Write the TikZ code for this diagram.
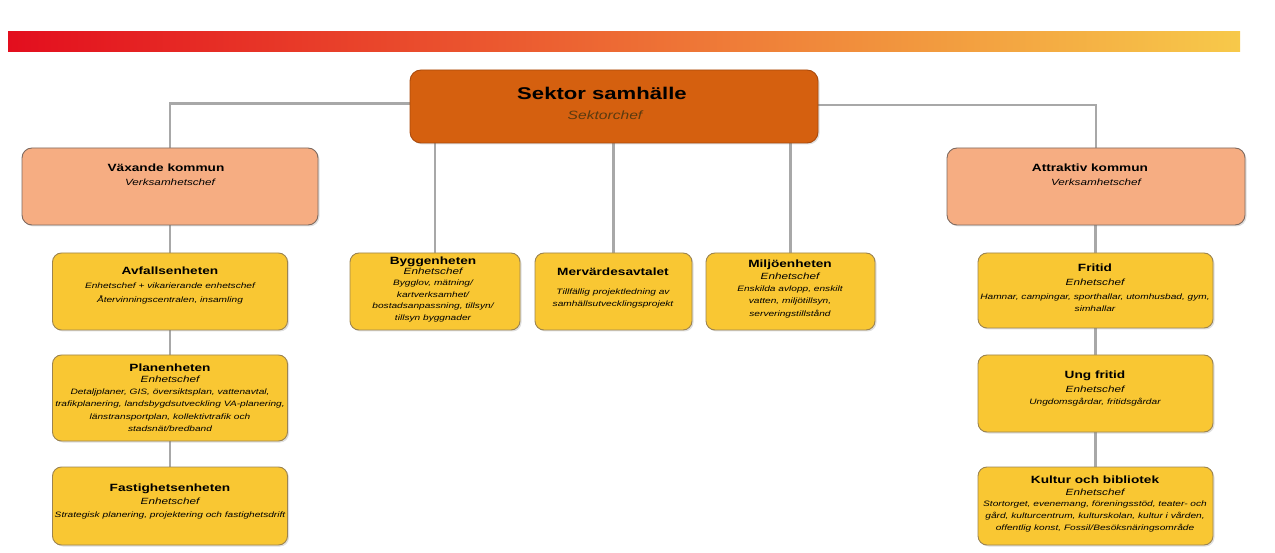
\documentclass[tikz,border=0pt]{standalone}
\usepackage{fontspec}
\setmainfont{Liberation Sans}[FakeStretch=1.3]
\usetikzlibrary{shadows,backgrounds}
\definecolor{topfill}{HTML}{D5600F}
\definecolor{topdraw}{HTML}{A94A0C}
\definecolor{salfill}{HTML}{F6AD82}
\definecolor{saldraw}{HTML}{7E6A60}
\definecolor{yelfill}{HTML}{F9C733}
\definecolor{yeldraw}{HTML}{9C8450}
\definecolor{linegray}{HTML}{A8A8A8}
\definecolor{barred}{HTML}{E30E1E}
\definecolor{barmid}{HTML}{F07A1C}
\definecolor{baryel}{HTML}{F7C94A}
\definecolor{subtxt}{HTML}{5A3A10}
\tikzset{
  box/.style={rounded corners=9pt, draw, line width=0.9pt, inner sep=0pt,
    drop shadow={opacity=0.25, shadow xshift=1.5pt, shadow yshift=-1.5pt}},
  topbox/.style={box, fill=topfill, draw=topdraw, rounded corners=11pt},
  salbox/.style={box, fill=salfill, draw=saldraw, rounded corners=10pt},
  yelbox/.style={box, fill=yelfill, draw=yeldraw},
  conn/.style={draw=linegray, line width=2.6pt},
  txt/.style={anchor=base, inner sep=0pt},
}
\newcommand{\ttlf}{\bfseries\fontsize{10.5}{12}\selectfont}
\newcommand{\subf}{\itshape\fontsize{9}{11}\selectfont}
\newcommand{\bdyf}{\itshape\fontsize{7.8}{9}\selectfont}
% name, x, first-baseline y, line step, font, lines
\newcommand{\txl}[6]{\foreach \l [count=\i from 0] in {#6}{\node[txt, font=#5] (#1-\i) at ({#2},{#3+\i*#4}) {\l};}}
\begin{document}
\begin{tikzpicture}[x=1pt,y=-1pt]
\useasboundingbox (0,0) rectangle (1275,553);
\shade[left color=barred, middle color=barmid, right color=baryel] (8,32) rectangle (1240,52);

% boxes
\node[topbox, minimum width=408pt, minimum height=73pt] (top) at (614,106.5) {};
\node[salbox, minimum width=296pt, minimum height=77pt] (vax) at (170,186.5) {};
\node[salbox, minimum width=298pt, minimum height=77pt] (att) at (1096,186.5) {};
\node[yelbox, minimum width=235pt, minimum height=77pt] (avf) at (170,291.5) {};
\node[yelbox, minimum width=235pt, minimum height=86pt] (pla) at (170,398) {};
\node[yelbox, minimum width=235pt, minimum height=78pt] (fas) at (170,506) {};
\node[yelbox, minimum width=170pt, minimum height=77pt] (byg) at (435,291.5) {};
\node[yelbox, minimum width=157pt, minimum height=77pt] (mer) at (613.5,291.5) {};
\node[yelbox, minimum width=169pt, minimum height=77pt] (mil) at (790.5,291.5) {};
\node[yelbox, minimum width=235pt, minimum height=75pt] (fri) at (1095.5,290.5) {};
\node[yelbox, minimum width=235pt, minimum height=77pt] (ung) at (1095.5,393.5) {};
\node[yelbox, minimum width=235pt, minimum height=78pt] (kul) at (1095.5,506) {};

% texts
\node[txt, font=\bfseries\fontsize{17}{20}\selectfont] (topt) at (602,99.5) {Sektor samhälle};
\node[txt, font=\itshape\fontsize{12}{14}\selectfont, text=subtxt] (tops) at (605,120) {Sektorchef};

\node[txt, font=\ttlf] (vaxt) at (166,172) {Växande kommun};
\node[txt, font=\subf] (vaxs) at (170,186) {Verksamhetschef};
\node[txt, font=\ttlf] (attt) at (1090,172) {Attraktiv kommun};
\node[txt, font=\subf] (atts) at (1096,186) {Verksamhetschef};

\node[txt, font=\ttlf] (avft) at (170,275) {Avfallsenheten};
\txl{avfb}{170}{288.5}{14}{\bdyf}{{Enhetschef + vikarierande enhetschef},{Återvinningscentralen, insamling}}

\node[txt, font=\ttlf] (plat) at (170,371) {Planenheten};
\node[txt, font=\subf] (plas) at (170,383) {Enhetschef};
\txl{plab}{170}{394.5}{12.3}{\bdyf}{{Detaljplaner, GIS, översiktsplan, vattenavtal,},{trafikplanering, landsbygdsutveckling VA-planering,},{länstransportplan, kollektivtrafik och},{stadsnät/bredband}}

\node[txt, font=\ttlf] (fast) at (170,491) {Fastighetsenheten};
\node[txt, font=\subf] (fass) at (170,504) {Enhetschef};
\txl{fasb}{170}{517.5}{12}{\bdyf}{{Strategisk planering, projektering och fastighetsdrift}}

\node[txt, font=\ttlf] (bygt) at (433,265) {Byggenheten};
\node[txt, font=\subf] (bygs) at (433,275) {Enhetschef};
\txl{bygb}{433}{285.5}{11.6}{\bdyf}{{Bygglov, mätning/},{kartverksamhet/},{bostadsanpassning, tillsyn/},{tillsyn byggnader}}

\node[txt, font=\ttlf] (mert) at (613,276) {Mervärdesavtalet};
\txl{merb}{613}{294.5}{12}{\bdyf}{{Tillfällig projektledning av},{samhällsutvecklingsprojekt}}

\node[txt, font=\ttlf] (milt) at (790,268) {Miljöenheten};
\node[txt, font=\subf] (mils) at (790,280) {Enhetschef};
\txl{milb}{790}{291.5}{12.5}{\bdyf}{{Enskilda avlopp, enskilt},{vatten, miljötillsyn,},{serveringstillstånd}}

\node[txt, font=\ttlf] (frit) at (1095,272) {Fritid};
\node[txt, font=\subf] (fris) at (1095,286) {Enhetschef};
\txl{frib}{1095}{299.5}{12}{\bdyf}{{Hamnar, campingar, sporthallar, utomhusbad, gym,},{simhallar}}

\node[txt, font=\ttlf] (ungt) at (1095,378) {Ung fritid};
\node[txt, font=\subf] (ungs) at (1095,392) {Enhetschef};
\txl{ungb}{1095}{404.5}{12}{\bdyf}{{Ungdomsgårdar, fritidsgårdar}}

\node[txt, font=\ttlf] (kult) at (1095,483) {Kultur och bibliotek};
\node[txt, font=\subf] (kuls) at (1095,495) {Enhetschef};
\txl{kulb}{1095}{506.5}{12}{\bdyf}{{Stortorget, evenemang, föreningsstöd, teater- och},{gård, kulturcentrum, kulturskolan, kultur i vården,},{offentlig konst, Fossil/Besöksnäringsområde}}

\begin{scope}[on background layer]
\draw[conn] (top.west) ++(0,-3) -| (vax.north);
\draw[conn] (top.east) ++(0,-1.5) -| (att.north);
\draw[conn] (byg.north) -- (byg.north |- top.south);
\draw[conn] (mer.north) -- (mer.north |- top.south);
\draw[conn] (mil.north) -- (mil.north |- top.south);
\draw[conn] (vax.south) -- (avf.north);
\draw[conn] (avf.south) -- (pla.north);
\draw[conn] (pla.south) -- (fas.north);
\draw[conn] (att.south -| fri.north) -- (fri.north);
\draw[conn] (fri.south) -- (ung.north);
\draw[conn] (ung.south) -- (kul.north);
\end{scope}
\end{tikzpicture}
\end{document}
